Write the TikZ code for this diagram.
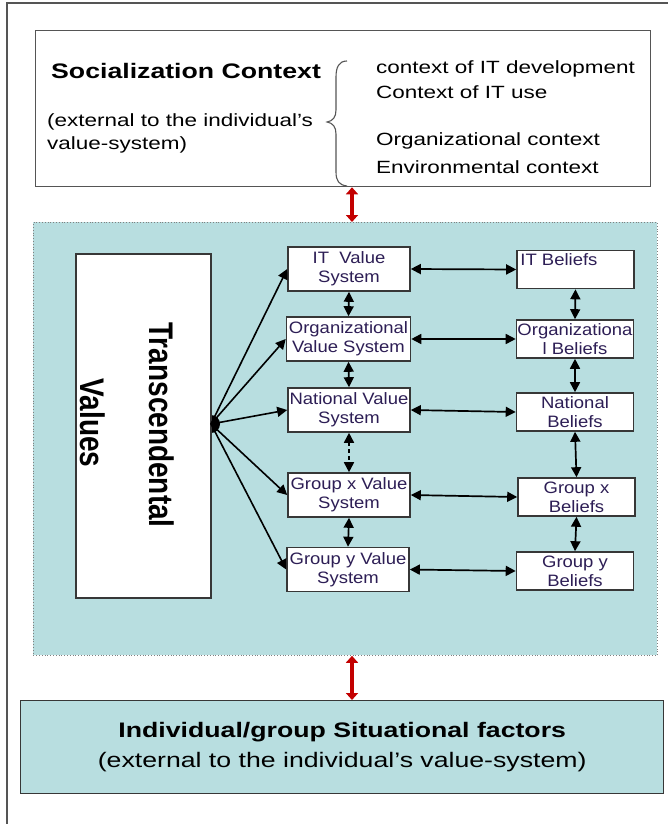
\documentclass[tikz,border=0pt]{standalone}
\usepackage{fontspec}
\setmainfont{Liberation Sans}[FakeStretch=1.27]
\newfontfamily\boxfont{Liberation Sans}[FakeStretch=1.12]
\newfontfamily\plainfont{Liberation Sans}
\usetikzlibrary{arrows.meta}
\definecolor{teal}{RGB}{184,222,224}
\definecolor{framegray}{RGB}{85,85,85}
\definecolor{boxgray}{RGB}{55,55,55}
\definecolor{boxtextcol}{RGB}{45,30,85}
\definecolor{arrred}{RGB}{195,0,0}
\tikzset{
  valbox/.style={draw=boxgray, line width=1.6, fill=white, minimum width=122, minimum height=44, inner sep=0,
    align=center, text=boxtextcol, font=\boxfont\fontsize{16.5}{19}\selectfont},
  belbox/.style={valbox, minimum width=117, minimum height=38},
  dbl/.style={line width=1.7, {Triangle[length=10,width=10]}-{Triangle[length=10,width=10]}},
  sgl/.style={line width=1.6, -{Triangle[length=10,width=10]}},
  redarr/.style={line width=3.8, arrred, {Triangle[length=7,width=12]}-{Triangle[length=7,width=12]}},
  txt/.style={inner sep=0, anchor=west},
}
\begin{document}
\begin{tikzpicture}[x=1pt,y=-1pt]
\useasboundingbox (0,0) rectangle (668,824);
\fill[white] (0,0) rectangle (668,824);
% outer frame
\draw[framegray, line width=1.2] (7,824) -- (7,3) -- (668,3);

% top box
\node[draw=framegray, line width=1.3, fill=white, minimum width=615, minimum height=156, anchor=north west, inner sep=0] (top) at (35,30) {};
\node[txt, font=\fontsize{21}{25}\selectfont\bfseries] (soc) at (51,71) {Socialization Context};
\node[txt, align=left, font=\fontsize{17.7}{23}\selectfont] (ext) at (47,133) {(external to the individual’s\\value-system)};
\node[txt, font=\fontsize{17.7}{22}\selectfont] (c1) at (376,69) {context of IT development};
\node[txt, font=\fontsize{17.7}{22}\selectfont] (c2) at (376,92) {Context of IT use};
\node[txt, font=\fontsize{17.7}{22}\selectfont] (c3) at (376,141) {Organizational context};
\node[txt, font=\fontsize{17.7}{22}\selectfont] (c4) at (376,167) {Environmental context};
% brace
\draw[framegray, line width=1.1] (347,61) .. controls (339,61) and (336,67) .. (336,77)
  -- (336,110) .. controls (336,117) and (333,121) .. (327,122)
  .. controls (333,123) and (336,127) .. (336,134)
  -- (336,172) .. controls (336,181) and (339,185) .. (347,186);

% teal area
\node[draw=gray, dotted, line width=0.8, fill=teal, minimum width=624, minimum height=433, anchor=north west, inner sep=0] (teal) at (33,222) {};

\coordinate (rx) at (352,0);
\draw[redarr] (top.south -| rx) -- (teal.north -| rx);

% fan blob
\coordinate (fan) at (211,424);
\fill[black] (fan) circle[radius=9];

% transcendental values box
\node[draw=boxgray, line width=1.6, fill=white, minimum width=135, minimum height=344, anchor=north west, inner sep=0] (tv) at (75,253) {};
\node[rotate=-90, inner sep=0, font=\plainfont\fontsize{28}{30}\selectfont\bfseries] (tv1) at (162,425) {\scalebox{1}[1.22]{Transcendental}};
\node[rotate=-90, inner sep=0, font=\plainfont\fontsize{28}{30}\selectfont\bfseries] (tv2) at (93,423) {\scalebox{1}[1.22]{Values}};

% value boxes
\node[valbox] (itv) at (349,269) {IT\ \ Value\\System};
\node[valbox, minimum width=124] (orgv) at (348.5,339) {Organizational\\Value System};
\node[valbox] (natv) at (349,410) {National Value\\System};
\node[valbox] (gxv) at (349,495) {Group x Value\\System};
\node[valbox] (gyv) at (348,569.5) {Group y Value\\System};

% belief boxes
\node[belbox] (itb) at (575.5,269.5) {};
\node[anchor=north west, inner sep=0, text=boxtextcol, font=\boxfont\fontsize{16.5}{19}\selectfont] (itbt) at ([xshift=4,yshift=-4]itb.north west) {IT Beliefs};
\node[belbox] (orgb) at (575,339) {Organizationa\\l Beliefs};
\node[belbox] (natb) at (575,412) {National\\Beliefs};
\node[belbox] (gxb) at (576.5,497) {Group x\\Beliefs};
\node[belbox] (gyb) at (575,571) {Group y\\Beliefs};

% fan arrows
\foreach \t in {itv,orgv,natv,gxv,gyv}{
  \draw[sgl] (fan) -- (\t.west);
}
% horizontal arrows
\draw[dbl] (itv.east) -- (itb.west);
\draw[dbl] (orgv.east) -- (orgb.west);
\draw[dbl] (natv.east) -- (natb.west);
\draw[dbl] (gxv.east) -- (gxb.west);
\draw[dbl] (gyv.east) -- (gyb.west);
% vertical arrows
\draw[dbl] (itv.south) -- (orgv.north);
\draw[dbl] (orgv.south) -- (natv.north);
\draw[dbl, dash pattern=on 4 off 3] (natv.south) -- (gxv.north);
\draw[dbl] (gxv.south) -- (gyv.north);
\draw[dbl] (itb.south) -- (orgb.north);
\draw[dbl] (orgb.south) -- (natb.north);
\draw[dbl] (natb.south) -- (gxb.north);
\draw[dbl] (gxb.south) -- (gyb.north);

% bottom box
\node[draw=boxgray, line width=1.4, fill=teal, minimum width=643, minimum height=93, anchor=north west, inner sep=0,
  align=center, font=\fontsize{21}{30}\selectfont] (bot) at (20,700)
  {{\bfseries Individual/group Situational factors}\\(external to the individual’s value-system)};
\draw[redarr] (teal.south -| rx) -- (bot.north -| rx);
\end{tikzpicture}
\end{document}
